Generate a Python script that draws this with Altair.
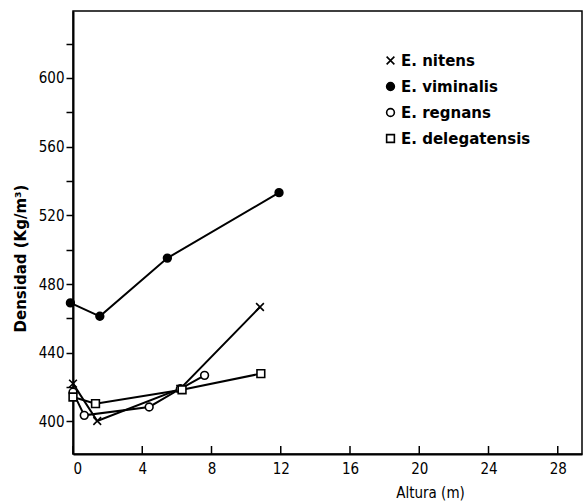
import altair as alt
import pandas as pd

series = ["E. nitens", "E. viminalis", "E. regnans", "E. delegatensis"]

nitens_x = [0, 1.4, 6.2, 10.8]
nitens_y = [422, 400.2, 419, 466.6]
vim_x = [-0.15, 1.55, 5.45, 11.9]
vim_y = [469, 461.2, 495.1, 533.2]
reg_x = [0, 0.65, 4.4, 6.2, 7.6]
reg_y = [417, 403.5, 408.4, 419, 426.8]
del_x = [0, 1.3, 6.3, 10.85]
del_y = [414.2, 410.3, 418.4, 427.8]

x_ticks = [0, 4, 8, 12, 16, 20, 24, 28]
y_ticks = [400, 420, 440, 460, 480, 500, 520, 540, 560, 580, 600, 620]

rows = []
for name, xs, ys in zip(series, [nitens_x, vim_x, reg_x, del_x], [nitens_y, vim_y, reg_y, del_y]):
    for i, (a, b) in enumerate(zip(xs, ys)):
        rows.append({"serie": name, "altura": a, "densidad": b, "orden": i})
df = pd.DataFrame(rows)
ticks_df = pd.DataFrame({"t": x_ticks})

FONT = "DejaVu Sans Condensed, DejaVu Sans"
xscale = alt.Scale(domain=[0, 29.4], nice=False, zero=False)
yscale = alt.Scale(domain=[381, 639], nice=False, zero=False)

xpath = "M-1,-1L1,1M-1,1L1,-1"


def leg():
    return alt.Legend(title=None, orient="none", legendX=310, legendY=42,
                      labelFont="DejaVu Sans", labelFontSize=15, labelFontWeight="bold",
                      labelColor="black", rowPadding=10, symbolSize=60,
                      symbolStrokeWidth=1.6, labelOffset=3, labelLimit=300)


x_enc = alt.X(
    "altura:Q", scale=xscale,
    axis=alt.Axis(values=x_ticks, ticks=False, grid=False, title="Altura (m)",
                  domainColor="black", domainWidth=2, labelColor="black",
                  labelFont=FONT, labelFontSize=15, labelPadding=7,
                  titleFont=FONT, titleFontSize=15, titleFontWeight="normal",
                  titleX=357, titleY=38, titleBaseline="middle", titleAlign="center",
                  titleColor="black"),
)
y_enc = alt.Y(
    "densidad:Q", scale=yscale,
    axis=alt.Axis(values=y_ticks, grid=False, title="Densidad (Kg/m³)",
                  labelExpr="datum.value % 40 == 0 ? datum.label : ''",
                  tickSize=7, tickWidth=1.5, tickColor="black",
                  domainColor="black", domainWidth=2, labelColor="black",
                  labelFont=FONT, labelFontSize=15, labelPadding=2,
                  titleFont="DejaVu Sans", titleFontSize=15, titleFontWeight="bold",
                  titleAngle=270, titleX=-53, titleY=247, titleAlign="center",
                  titleBaseline="middle", titleColor="black"),
)

lines = alt.Chart(df).mark_line(color="black", strokeWidth=2).encode(
    x=x_enc, y=y_enc, detail="serie:N", order="orden:Q"
)

points = alt.Chart(df).mark_point(filled=True, strokeWidth=1.6, size=60, opacity=1).encode(
    x=alt.X("altura:Q", scale=xscale),
    y=alt.Y("densidad:Q", scale=yscale),
    shape=alt.Shape("serie:N", scale=alt.Scale(domain=series, range=[xpath, "circle", "circle", "square"]),
                    legend=leg()),
    fill=alt.Fill("serie:N", scale=alt.Scale(domain=series, range=["black", "black", "white", "white"]),
                  legend=leg()),
    stroke=alt.Stroke("serie:N", scale=alt.Scale(domain=series, range=["black", "black", "black", "black"]),
                      legend=leg()),
)

tick_marks = alt.Chart(ticks_df).mark_rule(color="black", strokeWidth=1.5).encode(
    x=alt.X("t:Q", scale=xscale),
    y=alt.value(443), y2=alt.value(435),
)

chart = alt.layer(lines, tick_marks, points).properties(
    width=509, height=443,
    autosize=alt.AutoSizeParams(type="none"),
    padding={"left": 73, "top": 11, "right": 4, "bottom": 48},
    background="white",
).configure_view(stroke="black", strokeWidth=1.5)

chart.save("out.html", embed_options={"renderer": "svg", "actions": False})
